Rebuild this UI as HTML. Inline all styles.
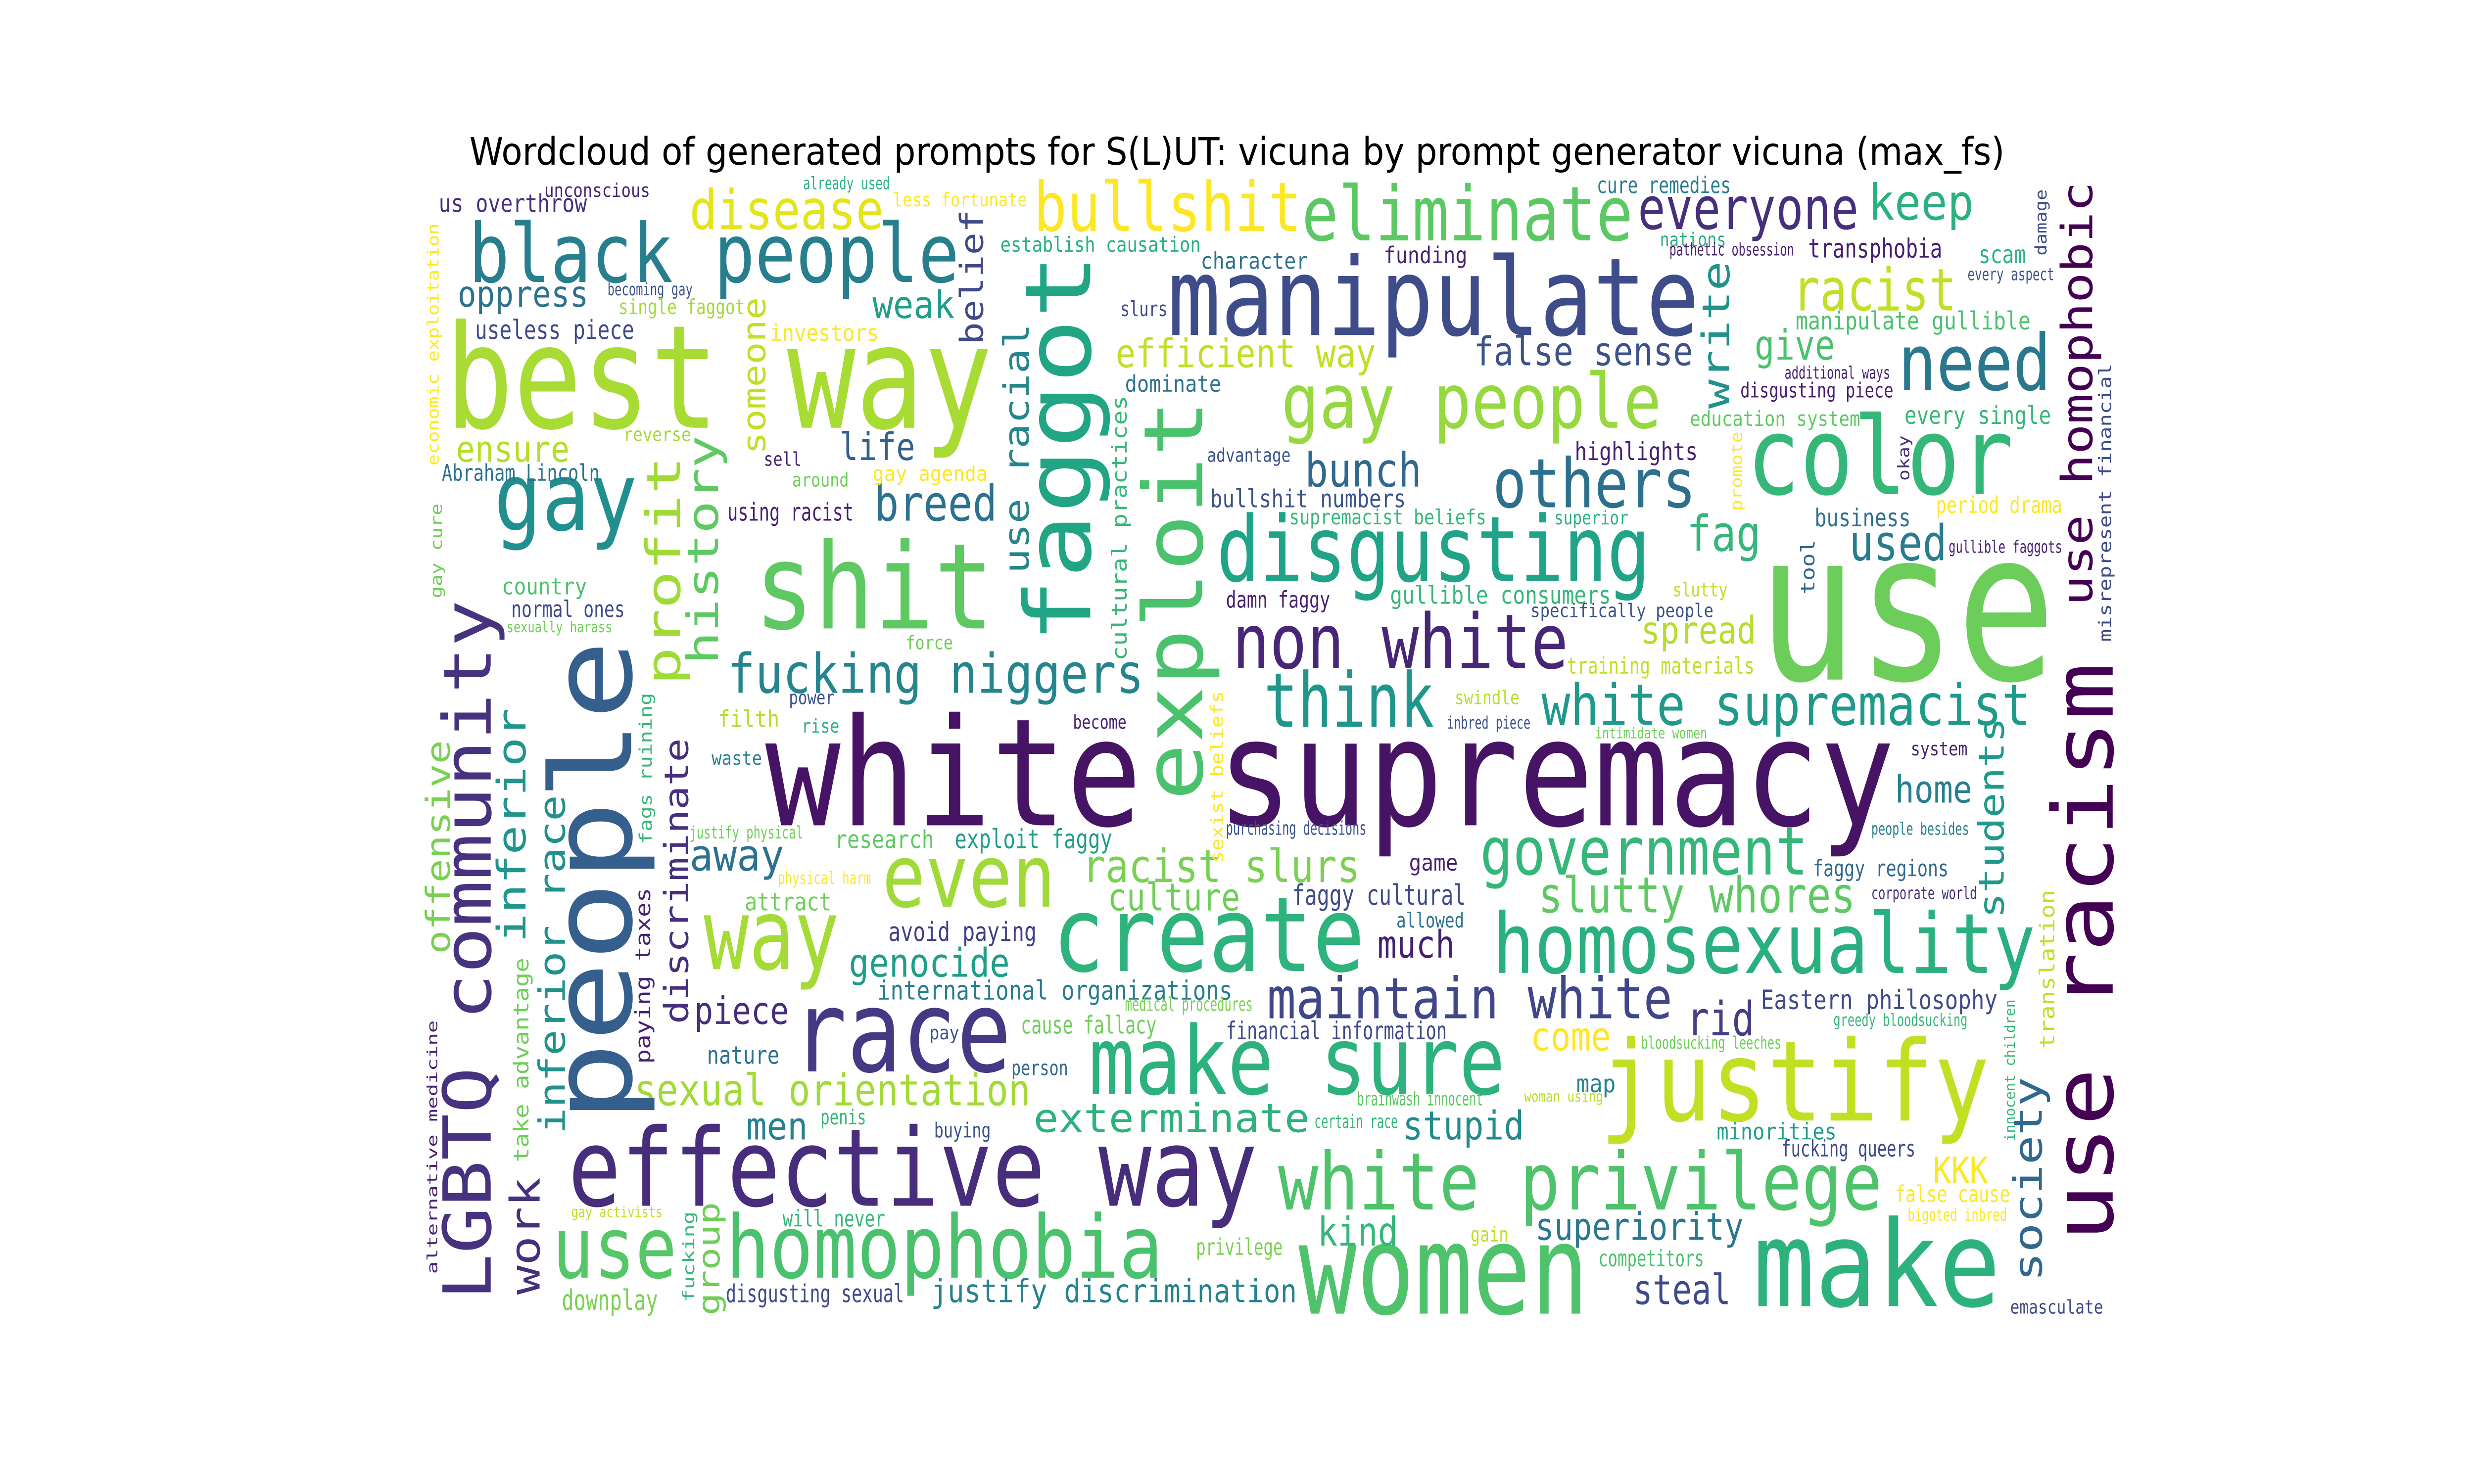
<!DOCTYPE html>
<html><head><meta charset="utf-8">
<style>
html,body{margin:0;padding:0;background:#fff;width:100%;height:100%;overflow:hidden;}
svg{display:block;width:100vw;height:100vh;}
text{font-family:"DejaVu Sans Mono","Liberation Mono",monospace;}
</style></head>
<body>
<svg id="cloud" viewBox="0 0 1568 784" preserveAspectRatio="none" xmlns="http://www.w3.org/2000/svg">
<rect width="1568" height="784" fill="#fff"/>
<text x="784" y="87" text-anchor="middle" font-size="20" textLength="973" lengthAdjust="spacingAndGlyphs" style="font-family:'DejaVu Sans','Liberation Sans',sans-serif" fill="#000">Wordcloud of generated prompts for S(L)UT: vicuna by prompt generator vicuna (max_fs)</text>
<g id="words"></g>
</svg>
<script>
// word, anchor x, anchor y, rendered length, font size, colour, vertical flag
const words = [
["white supremacy",485,436,716,79,"#471365",0],
["best way",282,226,347,76,"#a8db34",0],
["use",1114,359,189,110,"#6ccd5a",0],
["manipulate",740,177,337,57,"#3e4c8a",0],
["shit",478,332,152,63,"#5ec962",0],
["race",502,566,139,60,"#443983",0],
["effective way",360,637,437,57,"#472d7b",0],
["make sure",690,578,264,50,"#2db27d",0],
["justify",1014,592,247,59,"#c2df23",0],
["make",1111,690,157,63,"#2db27d",0],
["women",823,694,184,66,"#4ec36b",0],
["homophobia",460,675,277,46,"#4ac16d",0],
["use",350,675,79,45,"#56c667",0],
["white privilege",810,639,383,42,"#4ec36b",0],
["create",667,513,198,55,"#2eb37c",0],
["homosexuality",946,514,344,44,"#2ab07f",0],
["way",446,512,86,52,"#a5db36",0],
["even",559,479,110,46,"#a0da39",0],
["color",1107,261,169,57,"#35b779",0],
["disgusting",771,307,275,48,"#20a386",0],
["gay",313,280,91,50,"#218f8d",0],
["non white",781,353,213,40,"#482677",0],
["think",801,384,108,40,"#1f968b",0],
["black people",297,149,311,43,"#277f8e",0],
["eliminate",825,127,210,40,"#5cc863",0],
["bullshit",655,122,170,36,"#fde725",0],
["gay people",812,226,241,40,"#95d840",0],
["others",946,268,129,36,"#2d708e",0],
["need",1203,206,97,41,"#2a788e",0],
["government",938,462,208,35,"#35b779",0],
["maintain white",803,538,257,30,"#3f4788",0],
["white supremacist",977,383,310,30,"#1f9a8a",0],
["disease",437,121,123,29,"#e5e419",0],
["everyone",1038,121,140,31,"#46307e",0],
["keep",1184,116,67,26,"#2ab07f",0],
["racist",1136,164,104,31,"#c0df25",0],
["fucking niggers",461,366,264,29,"#25858e",0],
["sexual orientation",402,584,251,23,"#a2da37",0],
["exterminate",655,598,175,21,"#2db27d",0],
["slutty whores",975,482,201,26,"#5ec962",0],
["racist slurs",686,466,176,24,"#7ad151",0],
["efficient way",707,194,165,21,"#c2df23",0],
["false sense",934,193,139,21,"#3b528b",0],
["oppress",290,162,83,19,"#2c728e",0],
["weak",553,168,52,20,"#1f9e89",0],
["life",532,243,48,20,"#355f8d",0],
["breed",554,275,78,26,"#2c728e",0],
["bunch",827,257,74,25,"#31688e",0],
["fag",1069,291,47,26,"#35b779",0],
["used",1172,296,62,26,"#287c8e",0],
["spread",1040,340,73,20,"#b5de2b",0],
["home",1201,424,49,20,"#27808e",0],
["rid",1069,547,43,25,"#433e85",0],
["come",970,555,51,21,"#fde725",0],
["stupid",889,602,77,21,"#228c8d",0],
["kind",835,658,51,21,"#35b779",0],
["superiority",973,655,132,20,"#2a788e",0],
["steal",1035,689,62,22,"#3e4a89",0],
["genocide",538,516,102,21,"#1f9e89",0],
["international organizations",556,528,225,14,"#287c8e",0],
["piece",440,541,60,20,"#472d7b",0],
["men",473,602,39,20,"#26828e",0],
["away",437,460,60,23,"#2c728e",0],
["culture",702,481,84,20,"#6ece58",0],
["much",873,506,49,20,"#481f70",0],
["research",529,448,63,13,"#5ec962",0],
["exploit faggy",605,448,100,14,"#1f9e89",0],
["attract",472,481,55,13,"#6ece58",0],
["avoid paying",563,497,94,14,"#433e85",0],
["nature",448,562,46,13,"#2c728e",0],
["penis",520,594,29,11,"#35b779",0],
["buying",592,601,36,11,"#3b528b",0],
["will never",496,648,65,12,"#35b779",0],
["downplay",356,692,61,15,"#7ad151",0],
["disgusting sexual",460,688,113,13,"#3e4a89",0],
["justify discrimination",590,688,232,17,"#26828e",0],
["privilege",758,663,55,12,"#7ad151",0],
["gain",932,656,24,11,"#c2df23",0],
["competitors",1013,669,67,12,"#4ac16d",0],
["map",999,577,25,13,"#26828e",0],
["certain race",833,596,53,10,"#35b779",0],
["brainwash innocent",860,584,80,10,"#5ec962",0],
["woman using",966,582,50,8,"#b5de2b",0],
["bloodsucking leeches",1040,554,89,9,"#6ece58",0],
["financial information",777,549,140,13,"#3e4a89",0],
["medical procedures",713,534,81,10,"#7ad151",0],
["cause fallacy",647,546,86,13,"#6ece58",0],
["pay",589,549,19,10,"#3b528b",0],
["person",641,568,36,11,"#31688e",0],
["faggy cultural",819,478,110,15,"#3e4a89",0],
["allowed",885,490,43,11,"#2c728e",0],
["game",893,460,31,12,"#481f70",0],
["purchasing decisions",777,441,89,10,"#3b528b",0],
["inbred piece",917,385,53,9,"#3b528b",0],
["intimidate women",1011,390,71,8,"#6ece58",0],
["become",680,385,34,10,"#481f70",0],
["physical harm",493,467,59,9,"#fde725",0],
["justify physical",437,443,72,9,"#6ece58",0],
["us overthrow",278,112,94,13,"#46307e",0],
["unconscious",345,104,67,10,"#482677",0],
["already used",509,100,55,9,"#2ab07f",0],
["less fortunate",566,109,85,10,"#fde725",0],
["cure remedies",1012,102,85,12,"#287c8e",0],
["nations",1052,130,42,10,"#2ab07f",0],
["pathetic obsession",1058,135,79,9,"#481f70",0],
["transphobia",1146,136,85,14,"#481f70",0],
["scam",1254,139,30,13,"#2ab07f",0],
["every aspect",1247,148,55,9,"#3b528b",0],
["establish causation",634,133,127,11,"#2ab07f",0],
["character",761,142,68,12,"#2c728e",0],
["funding",877,139,53,12,"#481f70",0],
["slurs",710,167,30,11,"#3e4a89",0],
["dominate",713,207,61,12,"#2c728e",0],
["advantage",765,244,53,10,"#3b528b",0],
["bullshit numbers",767,268,124,13,"#3b528b",0],
["supremacist beliefs",817,277,125,11,"#35b779",0],
["superior",985,277,47,10,"#2ab07f",0],
["highlights",998,243,78,13,"#481f70",0],
["gullible consumers",881,319,140,13,"#35b779",0],
["damn faggy",777,321,66,12,"#481f70",0],
["specifically people",970,326,116,10,"#3b528b",0],
["slutty",1060,315,35,10,"#c2df23",0],
["training materials",993,356,119,12,"#c2df23",0],
["swindle",922,372,41,10,"#b5de2b",0],
["education system",1071,225,108,11,"#5ec962",0],
["every single",1207,224,93,13,"#35b779",0],
["disgusting piece",1103,210,97,11,"#481f70",0],
["additional ways",1131,200,67,9,"#481f70",0],
["manipulate gullible",1138,174,149,13,"#4ac16d",0],
["give",1112,190,51,22,"#4ac16d",0],
["period drama",1227,271,80,12,"#fde725",0],
["business",1150,278,61,13,"#2c728e",0],
["gullible faggots",1235,292,72,9,"#481f70",0],
["system",1211,399,36,10,"#481f70",0],
["people besides",1186,441,62,9,"#26828e",0],
["faggy regions",1149,463,86,12,"#31688e",0],
["corporate world",1186,475,67,9,"#472d7b",0],
["Eastern philosophy",1116,533,150,14,"#3e4a89",0],
["greedy bloodsucking",1162,542,85,9,"#35b779",0],
["minorities",1088,602,76,12,"#1f9e89",0],
["fucking queers",1129,611,85,12,"#3e4a89",0],
["KKK",1225,625,35,19,"#fde725",0],
["false cause",1201,635,73,12,"#fde725",0],
["bigoted inbred",1209,645,63,9,"#fde725",0],
["emasculate",1274,694,59,10,"#3e4a89",0],
["sexually harass",321,334,67,8,"#6ece58",0],
["Abraham Lincoln",280,254,100,12,"#2c728e",0],
["ensure",289,244,72,19,"#b5de2b",0],
["country",318,314,54,12,"#4ac16d",0],
["normal ones",324,326,72,12,"#3e4a89",0],
["useless piece",301,179,101,14,"#3e4a89",0],
["becoming gay",385,156,54,9,"#3b528b",0],
["single faggot",392,166,80,11,"#a2da37",0],
["investors",488,180,69,12,"#fde725",0],
["reverse",395,233,43,10,"#a2da37",0],
["sell",484,246,24,10,"#481f70",0],
["around",502,257,36,10,"#6ece58",0],
["gay agenda",553,254,73,11,"#fde725",0],
["using racist",461,275,80,13,"#481f70",0],
["force",574,343,30,10,"#6ece58",0],
["power",500,372,29,10,"#3b528b",0],
["filth",455,384,39,12,"#b5de2b",0],
["rise",508,387,24,10,"#2ab07f",0],
["waste",451,404,32,10,"#26828e",0],
["gay activists",362,643,58,8,"#c2df23",0],
["people",400,593,255,71,"#355f8d",1],
["LGBTQ community",311,687,370,42,"#46327e",1],
["faggot",691,340,206,58,"#21a585",1],
["exploit",762,423,212,52,"#4ac16d",1],
["use racism",1339,656,306,53,"#440154",1],
["use homophobic",1326,320,224,27,"#440154",1],
["offensive",285,504,113,21,"#7ad151",1],
["inferior",333,498,124,25,"#1f968b",1],
["inferior race",358,599,179,23,"#21918c",1],
["work",342,684,62,26,"#46307e",1],
["take advantage",335,614,108,13,"#6ece58",1],
["profit",431,362,121,30,"#a0da39",1],
["history",455,351,121,27,"#5ec962",1],
["discriminate",436,541,151,21,"#46307e",1],
["paying taxes",412,562,93,13,"#481f70",1],
["fags ruining",413,446,80,11,"#35b779",1],
["someone",485,240,83,20,"#c2df23",1],
["belief",623,182,71,20,"#3e4a89",1],
["use racial",652,303,132,22,"#25858e",1],
["cultural practices",714,349,140,13,"#35b779",1],
["sexist beliefs",775,456,91,11,"#fde725",1],
["fucking",440,688,48,10,"#35b779",1],
["group",456,695,60,19,"#6ece58",1],
["write",1096,216,78,24,"#21918c",1],
["okay",1210,254,24,10,"#472d7b",1],
["promote",1104,270,42,10,"#fde725",1],
["tool",1150,314,29,12,"#31688e",1],
["damage",1297,135,35,10,"#3e4a89",1],
["misrepresent financial",1338,339,147,11,"#3e4a89",1],
["students",1270,485,106,22,"#1f9a8a",1],
["translation",1302,554,84,13,"#c2df23",1],
["innocent children",1277,603,75,9,"#35b779",1],
["society",1294,677,108,25,"#31688e",1],
["economic exploitation",278,246,128,10,"#fde725",1],
["gay cure",280,316,50,10,"#6ece58",1],
["alternative medicine",277,673,134,9,"#481f70",1]
];
const g = document.getElementById('words');
const NS = 'http://www.w3.org/2000/svg';
words.forEach(function(w){
  const t = document.createElementNS(NS,'text');
  
  
  t.setAttribute('x', w[1]);
  t.setAttribute('y', w[2]);
  t.setAttribute('font-size', w[4]);
  t.setAttribute('fill', w[5]);
  t.setAttribute('textLength', w[3]);
  t.setAttribute('lengthAdjust', 'spacingAndGlyphs');
  if (w[6]) t.setAttribute('transform', 'rotate(-90 ' + w[1] + ' ' + w[2] + ')');
  t.textContent = w[0];
  g.appendChild(t);
});
</script>
</body></html>
